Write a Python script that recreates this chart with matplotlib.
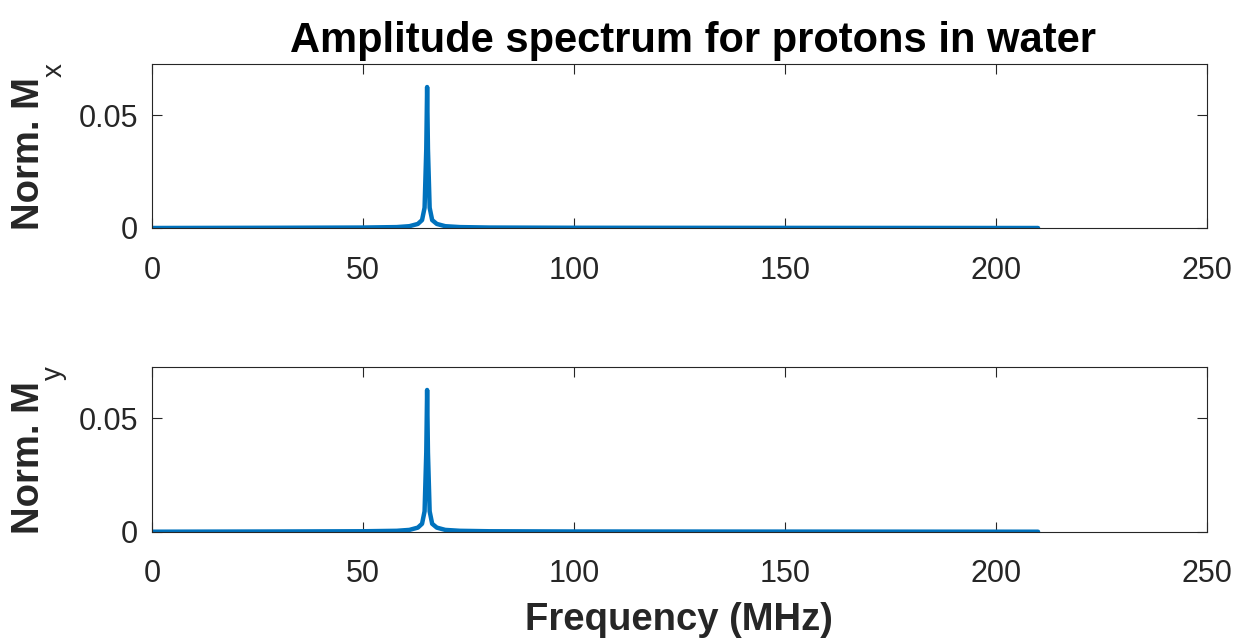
import matplotlib.pyplot as plt
import numpy as np

plt.rcParams['font.family'] = ['Liberation Sans', 'DejaVu Sans']

# spectrum samples (MHz, normalised magnitude)
freq = [0, 30, 50, 58, 61, 63, 64, 64.6, 65.0, 65.2, 65.4, 65.8, 66.4, 67.5,
        69.5, 73, 80, 100, 150, 210]
mx = [0, 0.0001, 0.0002, 0.0004, 0.0008, 0.0018, 0.0035, 0.009, 0.035, 0.0625,
      0.035, 0.009, 0.0035, 0.0018, 0.0008, 0.0004, 0.0002, 0.0001, 0.00005, 0]
my = [0, 0.0001, 0.0002, 0.0004, 0.0008, 0.0018, 0.0035, 0.009, 0.035, 0.0625,
      0.035, 0.009, 0.0035, 0.0018, 0.0008, 0.0004, 0.0002, 0.0001, 0.00005, 0]

xticks = [0, 50, 100, 150, 200, 250]
yticks = [0, 0.05]
ylabels = ['0', '0.05']

blue = '#0072BD'
dark = '#262626'

fig = plt.figure(figsize=(12.38, 6.39), dpi=100)
ax1 = fig.add_axes([0.1228, 0.6432, 0.852, 0.2559])
ax2 = fig.add_axes([0.1228, 0.1679, 0.852, 0.2573])

for ax, data, sub in [(ax1, mx, 'x'), (ax2, my, 'y')]:
    ax.plot(freq, data, color=blue, lw=3.2, solid_capstyle='round',
            solid_joinstyle='round')
    ax.set_xlim(0, 250)
    ax.set_ylim(0, 0.0725)
    ax.set_xticks(xticks)
    ax.set_yticks(yticks)
    ax.set_yticklabels(ylabels)
    ax.tick_params(direction='in', length=7.5, width=0.8, color=dark,
                   labelcolor=dark, labelsize=22, top=True, right=True)
    ax.tick_params(axis='x', pad=20)
    ax.tick_params(axis='y', pad=10)
    for s in ax.spines.values():
        s.set_color(dark)
        s.set_linewidth(0.8)
    # label with a dropped, regular-weight subscript
    ax.set_ylabel('Norm. M', fontsize=27.5, fontweight='bold', color=dark)
    ax.yaxis.set_label_coords(-0.0994, 0.453)
    ax.text(-0.0925, 0.965, sub, transform=ax.transAxes, rotation=90,
            fontsize=20, color=dark, ha='center', va='center')

ax1.set_title('Amplitude spectrum for protons in water', fontsize=30,
              fontweight='bold', pad=9, x=0.513)
ax2.set_xlabel('Frequency (MHz)', fontsize=27.5, fontweight='bold', color=dark,
               labelpad=9)

fig.savefig('out.png', dpi=100)
